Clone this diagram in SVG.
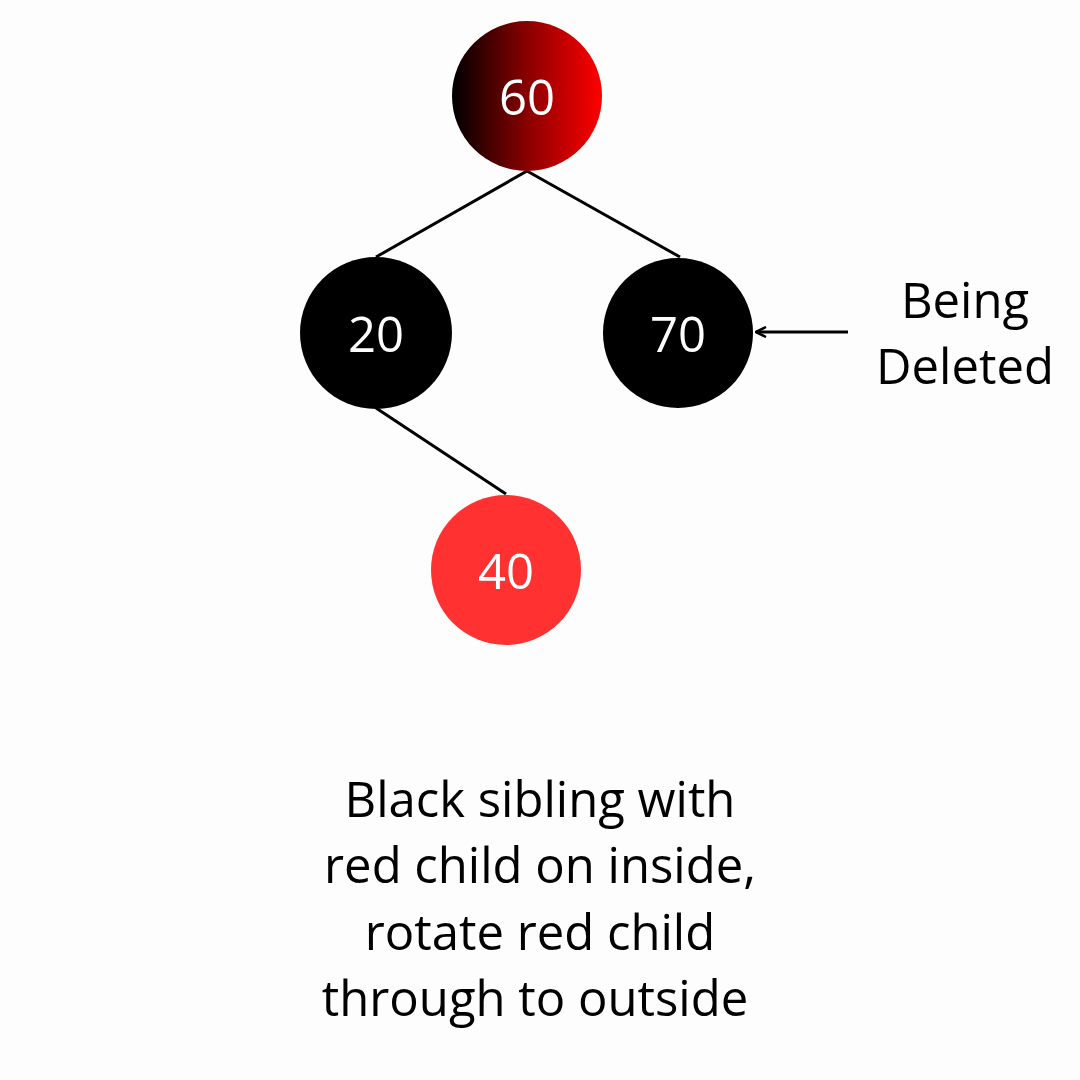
<svg xmlns="http://www.w3.org/2000/svg" width="1080" height="1080" viewBox="0 0 1080 1080">
<style>
.lbl{font-family:"Open Sans","Liberation Sans",sans-serif;fill:#fff;font-size:49px;text-anchor:middle;dominant-baseline:central}
.txt{font-family:"Open Sans","Liberation Sans",sans-serif;fill:#000;font-size:49px;text-anchor:middle}
.edge{stroke:#000;stroke-width:3;fill:none}
</style>
<defs>
<linearGradient id="g60" x1="0" y1="0" x2="1" y2="0">
<stop offset="0" stop-color="#000"/>
<stop offset="0.5" stop-color="#8a0000"/>
<stop offset="1" stop-color="#ff0000"/>
</linearGradient>
<marker id="arr" viewBox="0 0 12 12" refX="11" refY="6" markerWidth="12" markerHeight="12" markerUnits="userSpaceOnUse" orient="auto">
<path d="M1 1 L11 6 L1 11" fill="none" stroke="#000" stroke-width="2.5"/>
</marker>
</defs>
<rect width="1080" height="1080" fill="#fdfdfd"/>
<g id="connectors">
<line class="edge" x1="527" y1="171" x2="376" y2="257"/>
<line class="edge" x1="527" y1="171" x2="680" y2="257"/>
<line class="edge" x1="376" y1="408" x2="506" y2="494"/>
<line class="edge" x1="848" y1="332" x2="756" y2="332" marker-end="url(#arr)"/>
</g>
<g id="n60"><circle cx="527" cy="96" r="75" fill="url(#g60)"/><text class="lbl" x="527" y="96">60</text></g>
<g id="n20"><circle cx="376" cy="333" r="76" fill="#000"/><text class="lbl" x="376" y="333">20</text></g>
<g id="n70"><circle cx="678" cy="333" r="75" fill="#000"/><text class="lbl" x="678" y="333">70</text></g>
<g id="n40"><circle cx="506" cy="570" r="75" fill="#ff3131"/><text class="lbl" x="506" y="570">40</text></g>
<g id="note">
<text class="txt" x="965" y="318">Being</text>
<text class="txt" x="965" y="384">Deleted</text>
</g>
<g id="caption">
<text class="txt" x="540" y="817">Black sibling with</text>
<text class="txt" x="540" y="883">red child on inside,</text>
<text class="txt" x="540" y="950">rotate red child</text>
<text class="txt" x="535" y="1016">through to outside</text>
</g>
</svg>
